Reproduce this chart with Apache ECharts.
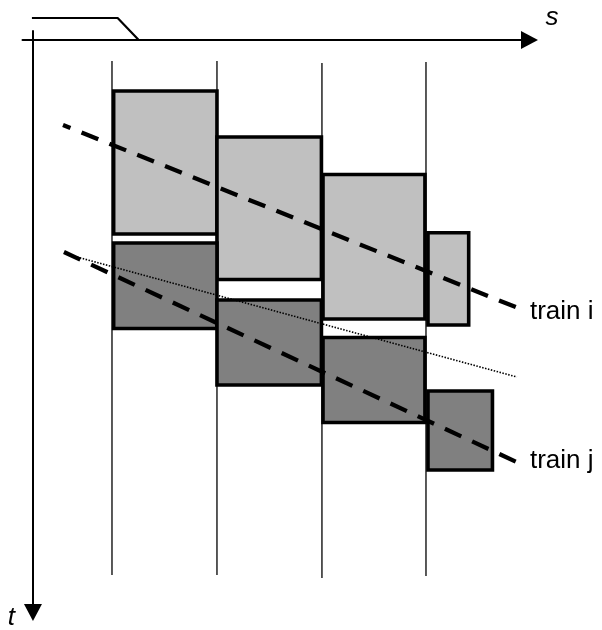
<!DOCTYPE html>
<html><head><meta charset="utf-8">
<script src="https://cdn.jsdelivr.net/npm/echarts@6/dist/echarts.min.js"></script>
<style>html,body{margin:0;padding:0;background:#fff}#c{width:602px;height:630px}</style>
</head><body><div id="c"></div>
<script>
// space axis s (section units), time axis t (time units, downward)
const stations = [0.755, 1.758, 2.761, 3.755];
const stationTop = [2.1, 2.1, 2.3, 2.2];
const stationBottom = [53.5, 53.5, 53.8, 53.6];

const trainISectionStart = [0.771, 1.758, 2.771, 3.774];
const trainISectionEnd = [1.758, 2.756, 3.745, 4.163];
const trainIOccupyFrom = [5.1, 9.7, 13.45, 19.27];
const trainIOccupyTo = [19.4, 23.95, 27.9, 28.5];

const trainJSectionStart = [0.771, 1.758, 2.771, 3.774];
const trainJSectionEnd = [1.758, 2.756, 3.745, 4.39];
const trainJOccupyFrom = [20.3, 26.0, 29.75, 35.1];
const trainJOccupyTo = [28.85, 34.5, 38.25, 43.0];

const trainIPathS = [0.287, 4.634];
const trainIPathT = [8.5, 26.8];
const trainJPathS = [0.296, 4.634];
const trainJPathT = [21.2, 42.27];
const headwayS = [0.42, 4.624];
const headwayT = [21.7, 33.7];
const entryS = [-0.01, 0.809, 1.006];
const entryT = [-2.2, -2.2, -0.05];

const trainLabels = ['train i', 'train j'];
const axisNames = ['s', 't'];

const zip = (a, b) => a.map((v, i) => [v, b[i]]);
const blocks = (s0, s1, t0, t1) => s0.map((v, i) => [v, s1[i], t0[i], t1[i]]);

function blockSeries(data, fill) {
  return {
    type: 'custom', data: data, z: 2, silent: true,
    encode: {x: [0, 1], y: [2, 3]},
    renderItem: function (params, api) {
      const a = api.coord([api.value(0), api.value(2)]);
      const b = api.coord([api.value(1), api.value(3)]);
      return {
        type: 'rect',
        shape: {x: Math.min(a[0], b[0]), y: Math.min(a[1], b[1]),
                width: Math.abs(b[0] - a[0]), height: Math.abs(b[1] - a[1])},
        style: {fill: fill, stroke: '#000', lineWidth: 3.6}
      };
    }
  };
}

const font = 'Liberation Sans, Arial, sans-serif';
const chart = echarts.init(document.getElementById('c'), null, {renderer: 'canvas'});
chart.setOption({
  backgroundColor: '#fff',
  animation: false,
  grid: {left: 22.5, top: 31, width: 507, height: 581.5, containLabel: false, outerBoundsMode: 'none'},
  xAxis: {
    type: 'value', min: -0.1, max: 4.744,
    axisLine: {onZero: true, symbol: ['none', 'triangle'], symbolSize: [18, 17], lineStyle: {color: '#000', width: 2}},
    axisTick: {show: false}, axisLabel: {show: false}, splitLine: {show: false},
    name: axisNames[0], nameLocation: 'end', nameGap: 16,
    nameTextStyle: {color: '#000', fontSize: 26, fontStyle: 'italic', fontFamily: font, align: 'left', verticalAlign: 'bottom', lineHeight: 44}
  },
  yAxis: {
    type: 'value', inverse: true, min: -0.9, max: 57.25,
    axisLine: {onZero: true, symbol: ['triangle', 'none'], symbolSize: [18, 17], lineStyle: {color: '#000', width: 2}},
    axisTick: {show: false}, axisLabel: {show: false}, splitLine: {show: false},
    name: axisNames[1], nameLocation: 'end', nameGap: 5.5,
    nameTextStyle: {color: '#000', fontSize: 26, fontStyle: 'italic', fontFamily: font, align: 'right', verticalAlign: 'middle', padding: [0, 18, 0, 0]}
  },
  series: [
    {
      type: 'custom', z: 1, silent: true,
      data: stations.map((s, i) => [s, stationTop[i], stationBottom[i]]),
      encode: {x: 0, y: [1, 2]},
      renderItem: function (params, api) {
        const a = api.coord([api.value(0), api.value(1)]);
        const b = api.coord([api.value(0), api.value(2)]);
        return {type: 'line', shape: {x1: a[0], y1: a[1], x2: b[0], y2: b[1]}, style: {stroke: '#000', lineWidth: 1.3}};
      }
    },
    blockSeries(blocks(trainISectionStart, trainISectionEnd, trainIOccupyFrom, trainIOccupyTo), '#c0c0c0'),
    blockSeries(blocks(trainJSectionStart, trainJSectionEnd, trainJOccupyFrom, trainJOccupyTo), '#808080'),
    {
      type: 'line', z: 4, silent: true, clip: false, symbol: 'none',
      data: zip(entryS, entryT),
      lineStyle: {color: '#000', width: 2.2}
    },
    {
      type: 'line', z: 4, silent: true, clip: false, symbol: 'none',
      data: zip(trainIPathS, trainIPathT),
      lineStyle: {color: '#000', width: 4.3, type: [18, 12], dashOffset: 10, cap: 'butt'},
      endLabel: {show: true, formatter: trainLabels[0], color: '#000', fontSize: 26, fontFamily: font, distance: 0, offset: [12, 4]}
    },
    {
      type: 'line', z: 4, silent: true, clip: false, symbol: 'none',
      data: zip(trainJPathS, trainJPathT),
      lineStyle: {color: '#000', width: 4.3, type: [18, 12], dashOffset: 0, cap: 'butt'},
      endLabel: {show: true, formatter: trainLabels[1], color: '#000', fontSize: 26, fontFamily: font, distance: 0, offset: [12, -1.7]}
    },
    {
      type: 'line', z: 5, silent: true, clip: false, symbol: 'none',
      data: zip(headwayS, headwayT),
      lineStyle: {color: '#000', width: 1.6, type: [1.5, 1.5]}
    }
  ]
});
</script></body></html>
